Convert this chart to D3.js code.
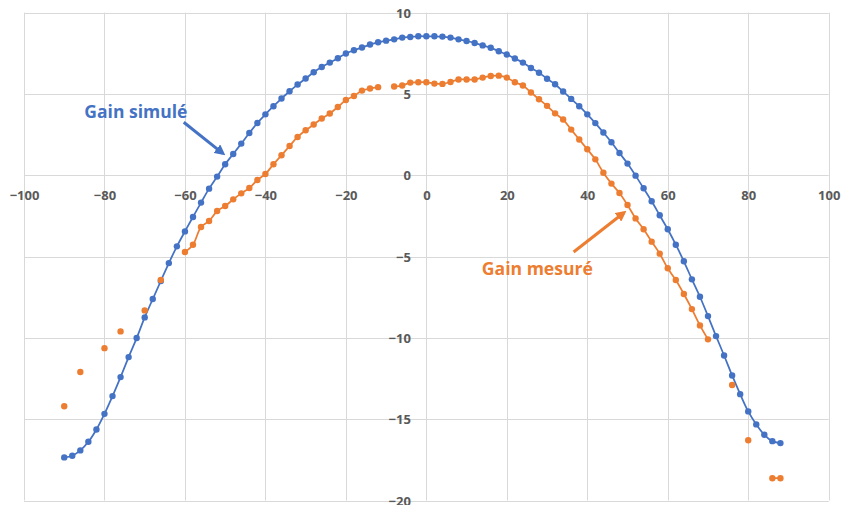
<!DOCTYPE html>
<html>
<head>
<meta charset="utf-8">
<script src="https://cdn.jsdelivr.net/npm/d3@7"></script>
<style>
  html, body { margin: 0; padding: 0; background: #ffffff; }
  svg { display: block; }
</style>
</head>
<body>
<svg id="chart" width="841" height="505"></svg>
<script>
// ---------- data ----------
const angles = [-90,-88,-86,-84,-82,-80,-78,-76,-74,-72,-70,-68,-66,-64,-62,-60,-58,-56,-54,-52,
  -50,-48,-46,-44,-42,-40,-38,-36,-34,-32,-30,-28,-26,-24,-22,-20,-18,-16,-14,-12,
  -10,-8,-6,-4,-2,0,2,4,6,8,10,12,14,16,18,20,22,24,26,28,
  30,32,34,36,38,40,42,44,46,48,50,52,54,56,58,60,62,64,66,68,
  70,72,74,76,78,80,82,84,86,88];

const gainSimule = [-17.35,-17.25,-16.92,-16.39,-15.63,-14.67,-13.58,-12.41,-11.18,-10.01,
  -8.74,-7.61,-6.5,-5.4,-4.37,-3.45,-2.56,-1.68,-0.82,-0.08,
  0.68,1.31,1.95,2.6,3.22,3.75,4.25,4.72,5.17,5.58,
  5.95,6.34,6.66,6.93,7.2,7.49,7.69,7.86,8.04,8.18,
  8.28,8.36,8.47,8.51,8.55,8.55,8.55,8.53,8.47,8.36,
  8.26,8.14,7.99,7.84,7.63,7.43,7.18,6.93,6.6,6.31,
  5.94,5.6,5.15,4.7,4.25,3.75,3.21,2.63,2.03,1.37,
  0.72,-0.02,-0.8,-1.6,-2.46,-3.32,-4.27,-5.29,-6.4,-7.47,
  -8.66,-9.89,-11.08,-12.31,-13.46,-14.52,-15.32,-15.96,-16.35,-16.47];

const gainMesure = [-14.2,null,-12.1,null,null,-10.63,null,-9.6,null,null,
  -8.31,null,-6.44,null,null,-4.72,-4.27,-3.18,-2.81,-2.2,
  -1.89,-1.48,-1.11,-0.78,-0.29,0.08,0.68,1.23,1.8,2.36,
  2.77,3.12,3.49,3.8,4.2,4.63,4.88,5.21,5.34,5.42,
  null,5.46,5.52,5.7,5.72,5.72,5.64,5.62,5.74,5.89,
  5.89,5.89,6.01,6.11,6.13,6.01,5.72,5.52,5.09,4.68,
  4.27,3.81,3.43,2.81,2.2,1.6,0.98,0.16,-0.51,-1.09,
  -1.83,-2.65,-3.32,-4.08,-4.82,-5.72,-6.44,-7.3,-8.23,-9.23,
  -10.09,null,null,-12.9,null,-16.29,null,null,-18.63,-18.63];

const xTicks = [-100,-80,-60,-40,-20,0,20,40,60,80,100];
const yTicks = [-20,-15,-10,-5,0,5,10];

const seriesNames = ["Gain simulé", "Gain mesuré"];
// annotation anchors in data units: [textX, textY, arrowFromX, arrowFromY, arrowToX, arrowToY]
const annoSimule = [-85.0, 3.5, -60.3, 3.26, -50.6, 1.35];
const annoMesure = [13.8, -6.15, 36.6, -4.72, 49.1, -2.3];

// ---------- drawing ----------
const blue = "#4472C4", orange = "#ED7D31", grid = "#d9d9d9", labelCol = "#595959";
const svg = d3.select("#chart");

const x = d3.scaleLinear().domain([-100, 100]).range([24, 828.7]);
const y = d3.scaleLinear().domain([-20, 10]).range([500.5, 12.7]);

// gridlines
const g = svg.append("g");
g.selectAll("line.v").data(xTicks).enter().append("line")
  .attr("x1", d => Math.round(x(d)) + 0.5).attr("x2", d => Math.round(x(d)) + 0.5)
  .attr("y1", y(10)).attr("y2", y(-20))
  .attr("stroke", grid).attr("stroke-width", 1);
g.selectAll("line.h").data(yTicks).enter().append("line")
  .attr("y1", d => Math.round(y(d)) + 0.5).attr("y2", d => Math.round(y(d)) + 0.5)
  .attr("x1", x(-100)).attr("x2", x(100))
  .attr("stroke", grid).attr("stroke-width", 1);

// axes (labels only)
const fontFam = "'Open Sans', 'Liberation Sans', sans-serif";
const xAxis = svg.append("g")
  .attr("transform", `translate(0,${y(0)})`)
  .call(d3.axisBottom(x).tickValues(xTicks).tickSize(0).tickPadding(0).tickFormat(d3.format("d")));
xAxis.select(".domain").remove();
xAxis.selectAll("text")
  .attr("y", 24.5).attr("dy", 0)
  .attr("fill", labelCol).attr("font-size", 13).attr("font-weight", 700)
  .attr("font-family", fontFam);

const yAxis = svg.append("g")
  .attr("transform", `translate(${x(0)},0)`)
  .call(d3.axisLeft(y).tickValues(yTicks).tickSize(0).tickPadding(0).tickFormat(d3.format("d")));
yAxis.select(".domain").remove();
yAxis.selectAll("text")
  .attr("x", -15.5).attr("dy", "0.36em")
  .attr("fill", labelCol).attr("font-size", 13).attr("font-weight", 700)
  .attr("font-family", fontFam);

// lines
function drawSeries(values, color) {
  const pts = angles.map((a, i) => ({ a, v: values[i] }));
  const line = d3.line()
    .defined(d => d.v !== null)
    .x(d => x(d.a)).y(d => y(d.v))
    .curve(d3.curveCatmullRom.alpha(0.5));
  svg.append("path").datum(pts)
    .attr("d", line)
    .attr("fill", "none").attr("stroke", color).attr("stroke-width", 1.75);
  svg.append("g").selectAll("circle")
    .data(pts.filter(d => d.v !== null)).enter().append("circle")
    .attr("cx", d => x(d.a)).attr("cy", d => y(d.v))
    .attr("r", 3.2).attr("fill", color);
}
drawSeries(gainSimule, blue);
drawSeries(gainMesure, orange);

// annotations
const defs = svg.append("defs");
function arrowMarker(id, color) {
  defs.append("marker").attr("id", id)
    .attr("viewBox", "0 0 10 10").attr("refX", 7).attr("refY", 5)
    .attr("markerWidth", 3.6).attr("markerHeight", 3.6)
    .attr("orient", "auto")
    .append("path").attr("d", "M0,0 L10,5 L0,10 Z").attr("fill", color);
}
arrowMarker("arrB", blue);
arrowMarker("arrO", orange);

function annotate(a, name, color, marker, width) {
  svg.append("line")
    .attr("x1", x(a[2])).attr("y1", y(a[3]))
    .attr("x2", x(a[4])).attr("y2", y(a[5]))
    .attr("stroke", color).attr("stroke-width", 3)
    .attr("marker-end", `url(#${marker})`);
  svg.append("text")
    .attr("x", x(a[0])).attr("y", y(a[1]))
    .attr("fill", color).attr("font-size", 18).attr("font-weight", 700)
    .attr("font-family", fontFam)
    .attr("textLength", width).attr("lengthAdjust", "spacingAndGlyphs")
    .text(name);
}
annotate(annoSimule, seriesNames[0], blue, "arrB", 103);
annotate(annoMesure, seriesNames[1], orange, "arrO", 111);
</script>
</body>
</html>
